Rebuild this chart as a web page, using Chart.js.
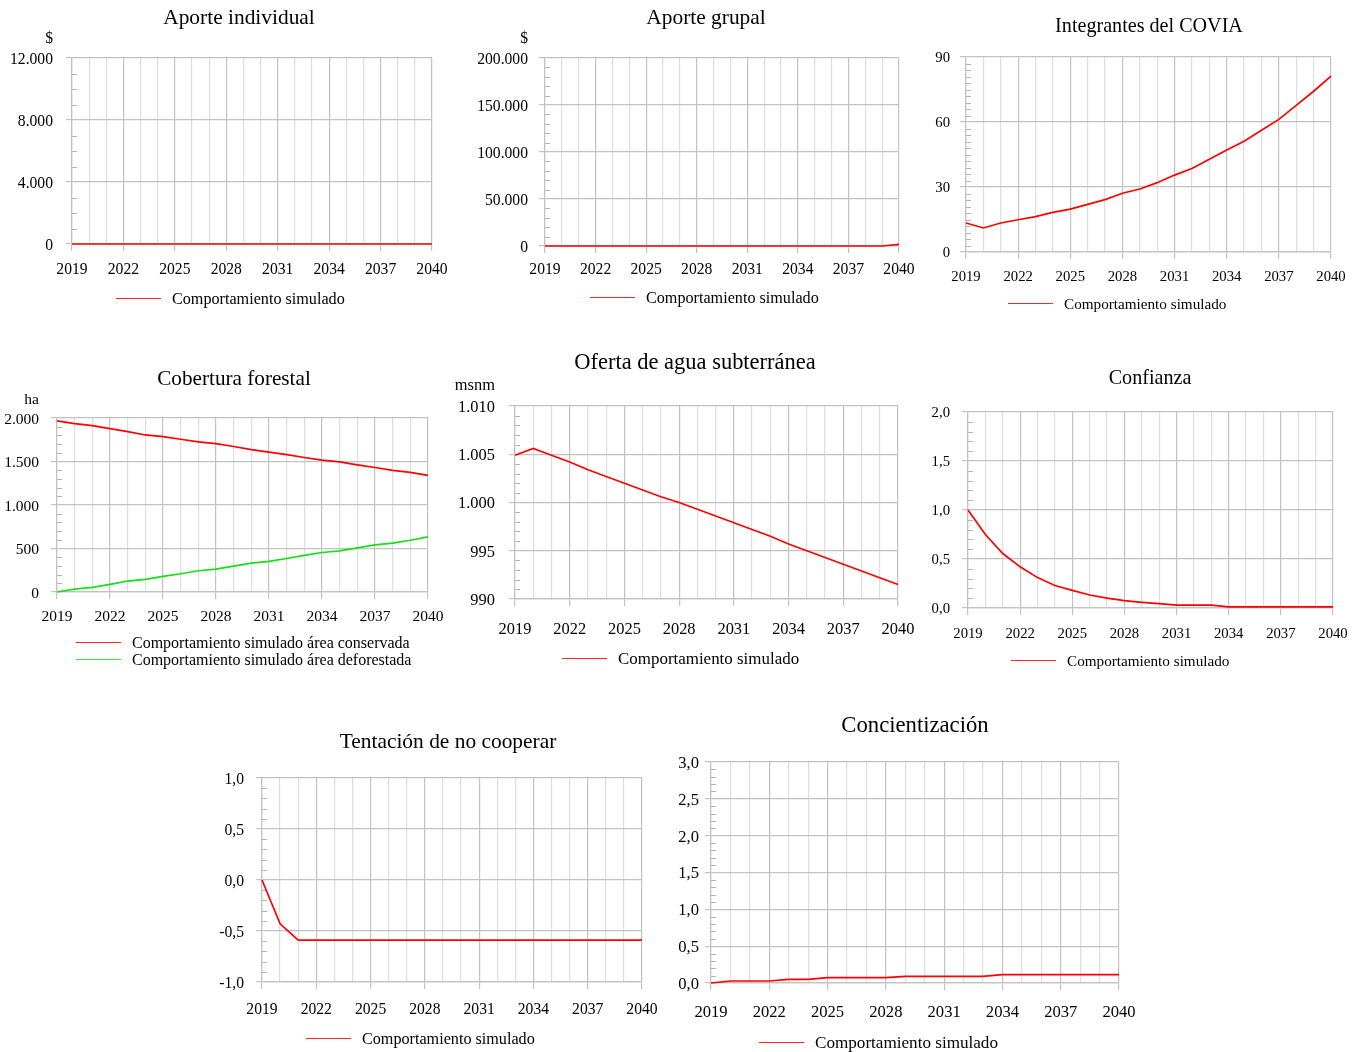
<!DOCTYPE html>
<html lang="es">
<head>
<meta charset="utf-8">
<title>Comportamiento simulado</title>
<script src="https://cdn.jsdelivr.net/npm/chart.js@4.4.1/dist/chart.umd.min.js"></script>
<style>
body { margin:0; background:#fff; font-family:"Liberation Serif","Times New Roman",serif; color:#000; }
#lienzo { position:relative; width:1360px; height:1052px; overflow:hidden; }
canvas { position:absolute; }
.unidad { position:absolute; width:80px; text-align:right; line-height:18px; }
.leyenda { position:absolute; line-height:17px; white-space:nowrap; }
.leyenda .fila { display:flex; align-items:center; }
.leyenda .linea { display:inline-block; width:45px; height:1px; margin-right:11px; opacity:.85; }
</style>
</head>
<body>
<div id="lienzo"></div>
<script>
// años simulados y años con etiqueta
const anios = [2019, 2020, 2021, 2022, 2023, 2024, 2025, 2026, 2027, 2028, 2029, 2030, 2031, 2032, 2033, 2034, 2035, 2036, 2037, 2038, 2039, 2040];
const aniosEtiquetados = [2019, 2022, 2025, 2028, 2031, 2034, 2037, 2040];

// series
const aporteIndividual = [0, 0, 0, 0, 0, 0, 0, 0, 0, 0, 0, 0, 0, 0, 0, 0, 0, 0, 0, 0, 0, 0];
const aporteGrupal = [0, 0, 0, 0, 0, 0, 0, 0, 0, 0, 0, 0, 0, 0, 0, 0, 0, 0, 0, 0, 0, 1800];
const integrantesCovia = [13.4, 11.1, 13.4, 14.9, 16.3, 18.3, 19.8, 22.0, 24.2, 27.1, 29.1, 32.0, 35.5, 38.5, 42.8, 47.1, 51.1, 56.2, 61.2, 67.7, 74.2, 81.2];
const areaConservada = [1966, 1935, 1912, 1878, 1843, 1805, 1786, 1756, 1725, 1706, 1672, 1637, 1607, 1580, 1546, 1515, 1496, 1462, 1431, 1397, 1374, 1340];
const areaDeforestada = [0, 34, 53, 88, 126, 145, 179, 210, 244, 263, 298, 332, 351, 385, 420, 454, 473, 508, 542, 561, 595, 634];
const ofertaAgua = [1004.9, 1005.6, 1004.9, 1004.2, 1003.4, 1002.7, 1002.0, 1001.3, 1000.6, 1000.0, 999.3, 998.6, 997.9, 997.2, 996.5, 995.7, 995.0, 994.3, 993.6, 992.9, 992.2, 991.5];
const confianza = [1.0, 0.75, 0.556, 0.42, 0.31, 0.23, 0.18, 0.133, 0.10, 0.075, 0.058, 0.044, 0.03, 0.03, 0.03, 0.012, 0.012, 0.012, 0.012, 0.012, 0.012, 0.012];
const tentacion = [0, -0.43, -0.59, -0.59, -0.59, -0.59, -0.59, -0.59, -0.59, -0.59, -0.59, -0.59, -0.59, -0.59, -0.59, -0.59, -0.59, -0.59, -0.59, -0.59, -0.59, -0.59];
const concientizacion = [0, 0.027, 0.027, 0.027, 0.05, 0.05, 0.073, 0.073, 0.073, 0.073, 0.091, 0.091, 0.091, 0.091, 0.091, 0.113, 0.113, 0.113, 0.113, 0.113, 0.113, 0.113];

// marcas del eje y
const ejeAporteIndividual = [0, 4000, 8000, 12000];
const ejeAporteGrupal = [0, 50000, 100000, 150000, 200000];
const ejeIntegrantes = [0, 30, 60, 90];
const ejeCobertura = [0, 500, 1000, 1500, 2000];
const ejeAgua = [990, 995, 1000, 1005, 1010];
const ejeConfianza = [0, 0.5, 1.0, 1.5, 2.0];
const ejeTentacion = [-1.0, -0.5, 0, 0.5, 1.0];
const ejeConcientizacion = [0, 0.5, 1.0, 1.5, 2.0, 2.5, 3.0];

const SIM = 'Comportamiento simulado';
const ROJO = '#ff0000', VERDE = '#14e014';
const GRIS = '#c2c2c2', GRIS_CLARO = '#dedede';
const FUENTE = '"Liberation Serif", "Times New Roman", serif';

const miles = v => String(Math.round(v)).replace(/\B(?=(\d{3})+(?!\d))/g, '.');
const coma = v => (Math.abs(v) < 1e-9 ? 0 : v).toFixed(1).replace('.', ',');

// rayitas cortas del eje y entre las marcas principales
const marcasMenores = {
  id: 'marcasMenores',
  beforeDatasetsDraw(chart, args, opts) {
    const y = chart.scales.y, a = chart.chartArea, c = chart.ctx;
    const n = Math.round((y.max - y.min) / opts.paso);
    const cada = Math.round(opts.mayor / opts.paso);
    c.save();
    c.strokeStyle = '#b4b4b4';
    c.lineWidth = 1;
    c.beginPath();
    for (let i = 1; i < n; i++) {
      if (i % cada === 0) continue;
      const py = Math.round(y.getPixelForValue(y.min + i * opts.paso)) + 0.5;
      c.moveTo(a.left, py);
      c.lineTo(a.left + 5, py);
    }
    c.stroke();
    c.restore();
  }
};

// esc: los paneles originales no tienen todos el mismo tamaño de letra
const graficos = [
  { titulo: 'Aporte individual', unidad: '$', eje: ejeAporteIndividual, menor: 1000, fmt: miles, esc: 1.01,
    series: [{ label: SIM, data: aporteIndividual, color: ROJO }],
    x0: 0, area: [72, 432, 58, 244], tit: [239, 17], ley: [116, 298], uni: [53, 37], padY: 13, bajaX: 24 },
  { titulo: 'Aporte grupal', unidad: '$', eje: ejeAporteGrupal, menor: 10000, fmt: miles, esc: 1.01,
    series: [{ label: SIM, data: aporteGrupal, color: ROJO }],
    x0: 460, area: [545, 899, 58, 246], tit: [706, 17], ley: [590, 297], uni: [528, 37], padY: 11, bajaX: 22 },
  { titulo: 'Integrantes del COVIA', unidad: '', eje: ejeIntegrantes, menor: 3, fmt: miles, esc: 0.95,
    series: [{ label: SIM, data: integrantesCovia, color: ROJO }],
    x0: 920, area: [966, 1331, 57, 252], tit: [1149, 25], ley: [1008, 303], uni: null, padY: 10, bajaX: 23 },
  { titulo: 'Cobertura forestal', unidad: 'ha', eje: ejeCobertura, menor: 100, fmt: miles, esc: 1.0,
    series: [{ label: SIM + ' área conservada', data: areaConservada, color: ROJO },
             { label: SIM + ' área deforestada', data: areaDeforestada, color: VERDE }],
    x0: 0, area: [57, 428, 418, 592], tit: [234, 378], ley: [76, 642], uni: [39, 398], padY: 12, bajaX: 23 },
  { titulo: 'Oferta de agua subterránea', unidad: 'msnm', eje: ejeAgua, menor: 1, fmt: miles, esc: 1.06,
    series: [{ label: SIM, data: ofertaAgua, color: ROJO }],
    x0: 450, area: [515, 898, 406, 599], tit: [695, 361], ley: [562, 658], uni: [495, 384], padY: 14, bajaX: 29 },
  { titulo: 'Confianza', unidad: '', eje: ejeConfianza, menor: 0.1, fmt: coma, esc: 0.95,
    series: [{ label: SIM, data: confianza, color: ROJO }],
    x0: 920, area: [968, 1333, 412, 608], tit: [1150, 377], ley: [1011, 660], uni: null, padY: 12, bajaX: 24 },
  { titulo: 'Tentación de no cooperar', unidad: '', eje: ejeTentacion, menor: 0.1, fmt: coma, esc: 1.01,
    series: [{ label: SIM, data: tentacion, color: ROJO }],
    x0: 200, area: [262, 642, 778, 982], tit: [448, 741], ley: [306, 1038], uni: null, padY: 12, bajaX: 26 },
  { titulo: 'Concientización', unidad: '', eje: ejeConcientizacion, menor: 0.1, fmt: coma, esc: 1.07,
    series: [{ label: SIM, data: concientizacion, color: ROJO }],
    x0: 660, area: [711, 1119, 762, 983], tit: [915, 724], ley: [759, 1042], uni: null, padY: 6, bajaX: 28 }
];

const lienzo = document.getElementById('lienzo');

function dibujar(g) {
  const [l, r, t, b] = g.area;
  const tamTitulo = 21.2 * g.esc, tamEje = 15.5 * g.esc, tamLey = 16 * g.esc;
  const altoTitulo = tamTitulo * 1.2;
  const padL = 2, altoX = 50;
  // el título se centra en la caja completa: se agrega un eje vacío a la derecha
  const finTitulo = 2 * g.tit[0] - (g.x0 + padL);
  const anchoDer = Math.max(0, finTitulo - r);
  const top = Math.round(g.tit[1] + 2 - altoTitulo / 2);
  const W = r + anchoDer - g.x0, H = b + altoX - top;

  const cv = document.createElement('canvas');
  cv.width = W; cv.height = H;
  cv.style.left = g.x0 + 'px'; cv.style.top = top + 'px';
  lienzo.appendChild(cv);

  const paso = g.eje[1] - g.eje[0];
  const chart = new Chart(cv, {
    type: 'line',
    data: {
      labels: anios,
      datasets: g.series.map(s => ({
        label: s.label, data: s.data, borderColor: s.color, backgroundColor: s.color,
        borderWidth: 1.7, pointRadius: 0, tension: 0, fill: false, clip: false, yAxisID: 'y'
      }))
    },
    options: {
      responsive: false,
      animation: false,
      layout: { padding: { left: padL, right: 0, top: 0, bottom: 0 } },
      plugins: {
        legend: { display: false },
        tooltip: { enabled: false },
        title: {
          display: true, text: g.titulo, color: '#000',
          font: { family: FUENTE, size: tamTitulo, weight: 'normal' },
          padding: { top: 0, bottom: t - top - altoTitulo }
        },
        marcasMenores: { paso: g.menor, mayor: paso }
      },
      scales: {
        x: {
          type: 'linear', min: anios[0], max: anios[anios.length - 1],
          ticks: {
            stepSize: 1, autoSkip: false, maxRotation: 0, minRotation: 0,
            color: '#000', font: { family: FUENTE, size: tamEje }, padding: g.bajaX - 5 - tamEje * 0.6,
            callback: v => aniosEtiquetados.includes(v) ? String(v) : ''
          },
          grid: {
            lineWidth: 1.2, tickLength: 7,
            color: c => aniosEtiquetados.includes(c.tick && c.tick.value) ? GRIS : GRIS_CLARO,
            tickColor: c => aniosEtiquetados.includes(c.tick && c.tick.value) ? GRIS : 'rgba(0,0,0,0)'
          },
          border: { color: GRIS, width: 1.2 },
          afterFit(s) { s.height = altoX; s.paddingLeft = 0; s.paddingRight = 0; }
        },
        y: {
          min: g.eje[0], max: g.eje[g.eje.length - 1],
          ticks: {
            stepSize: paso, color: '#000', font: { family: FUENTE, size: tamEje }, padding: g.padY,
            labelOffset: 1.5, callback: v => g.fmt(v)
          },
          grid: { color: GRIS, lineWidth: 1.2, tickLength: 6 },
          border: { color: GRIS, width: 1.2 },
          afterFit(s) { s.width = l - g.x0 - padL; s.paddingTop = 0; s.paddingBottom = 0; }
        },
        derecha: {
          position: 'right', display: true,
          grid: { display: false, drawTicks: false },
          ticks: { display: false },
          border: { display: false },
          afterFit(s) { s.width = anchoDer; s.paddingTop = 0; s.paddingBottom = 0; }
        }
      }
    },
    plugins: [marcasMenores]
  });

  if (g.uni) {
    const u = document.createElement('div');
    u.className = 'unidad';
    u.textContent = g.unidad;
    u.style.fontSize = tamEje + 'px';
    u.style.left = (g.uni[0] - 80) + 'px';
    u.style.top = (g.uni[1] - 8) + 'px';
    lienzo.appendChild(u);
  }

  // leyenda en html con los datos del gráfico
  const ley = document.createElement('div');
  ley.className = 'leyenda';
  ley.style.fontSize = tamLey + 'px';
  ley.style.left = g.ley[0] + 'px';
  ley.style.top = (g.ley[1] - 8.5) + 'px';
  chart.data.datasets.forEach(ds => {
    const fila = document.createElement('div');
    fila.className = 'fila';
    const linea = document.createElement('span');
    linea.className = 'linea';
    linea.style.background = ds.borderColor;
    const txt = document.createElement('span');
    txt.textContent = ds.label;
    fila.appendChild(linea);
    fila.appendChild(txt);
    ley.appendChild(fila);
  });
  lienzo.appendChild(ley);
}

graficos.forEach(dibujar);
</script>
</body>
</html>
